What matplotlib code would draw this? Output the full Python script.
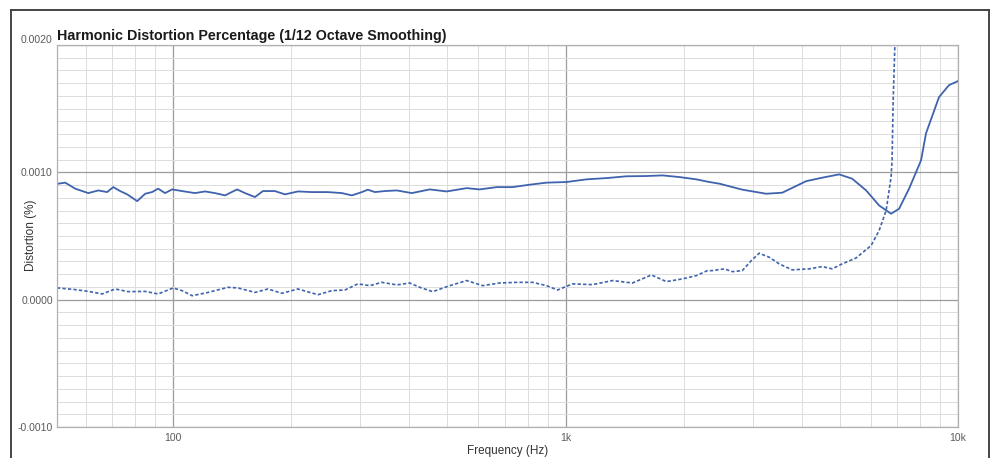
import matplotlib
matplotlib.use("Agg")
import matplotlib.pyplot as plt
from matplotlib.ticker import FixedLocator, LogLocator, MultipleLocator, NullFormatter
from matplotlib.lines import Line2D

plt.rcParams['font.family'] = ['Liberation Sans', 'DejaVu Sans']

# values (frequency in Hz, distortion in %)
solid_freq = [50.6, 51.0, 53.1, 56.3, 60.8, 64.5, 67.9, 70.4, 73.3, 76.4, 81.0, 84.9,
              88.4, 91.6, 95.4, 99.4, 105.4, 113.7, 120.6, 127.9, 135.6, 145.6, 152.5,
              161.7, 169.4, 181.7, 192.8, 208.0, 225.8, 248.0, 269.2, 285.4, 302.7,
              313.5, 326.6, 346.3, 371.5, 405.7, 450.8, 497.8, 559.9, 604.2, 667.5,
              733.3, 809.8, 894.6, 1006, 1131, 1272, 1430, 1607, 1766, 1950, 2154,
              2325, 2466, 2821, 3246, 3566, 4104, 4508, 4981, 5375, 5834, 6295, 6752,
              7078, 7505, 7821, 8050, 8290, 8946, 9487, 10000]
solid_val = [0.905, 0.911, 0.919, 0.872, 0.837, 0.858, 0.845, 0.884, 0.853, 0.827, 0.774,
             0.832, 0.845, 0.872, 0.837, 0.866, 0.853, 0.837, 0.850, 0.837, 0.819, 0.866,
             0.837, 0.806, 0.853, 0.853, 0.827, 0.850, 0.845, 0.845, 0.837, 0.819, 0.845,
             0.864, 0.845, 0.853, 0.858, 0.837, 0.866, 0.850, 0.876, 0.866, 0.884, 0.884,
             0.903, 0.919, 0.924, 0.945, 0.955, 0.969, 0.971, 0.976, 0.963, 0.945, 0.924,
             0.911, 0.864, 0.832, 0.840, 0.931, 0.958, 0.984, 0.950, 0.858, 0.740, 0.675,
             0.714, 0.872, 1.002, 1.094, 1.307, 1.591, 1.685, 1.717]

dash_freq = [50.6, 51.0, 56.3, 60.8, 66.0, 71.2, 76.8, 84.9, 91.6, 100, 105.4, 111.8,
             122.8, 138.0, 146.4, 161.7, 174.5, 189.4, 208.0, 233.9, 253.9, 274.0, 295.6,
             317.1, 340.3, 371.5, 400.9, 425.1, 458.7, 506.9, 559.9, 615.1, 679.4, 750.5,
             824.2, 894.6, 954.1, 1042, 1171, 1317, 1481, 1655, 1807, 1985, 2154, 2298,
             2366, 2539, 2660, 2821, 2974, 3115, 3304, 3504, 3780, 4178, 4508, 4779, 5068,
             5502, 6006, 6295, 6560, 6752, 6793, 6834, 6913]
dash_val = [0.090, 0.092, 0.079, 0.065, 0.045, 0.084, 0.063, 0.065, 0.045, 0.092, 0.071,
            0.031, 0.057, 0.097, 0.092, 0.057, 0.084, 0.050, 0.084, 0.039, 0.071, 0.076,
            0.124, 0.110, 0.136, 0.116, 0.131, 0.097, 0.063, 0.110, 0.150, 0.110, 0.131,
            0.136, 0.136, 0.110, 0.076, 0.124, 0.118, 0.150, 0.131, 0.194, 0.142, 0.163,
            0.189, 0.228, 0.228, 0.242, 0.220, 0.228, 0.307, 0.365, 0.333, 0.281, 0.234,
            0.242, 0.260, 0.242, 0.281, 0.328, 0.425, 0.543, 0.701, 0.963, 1.094, 1.55, 2.05]

# distortion values above are in units of 1e-3 %
solid_val = [v / 1000 for v in solid_val]
dash_val = [v / 1000 for v in dash_val]

x_ticks = [100, 1000, 10000]
x_tick_labels = ["100", "1k", "10k"]

blue = "#3f63ad"

fig = plt.figure(figsize=(9.91, 4.58), dpi=100)
ax = fig.add_axes([0.0575, 0.0677, 0.9092, 0.834])

ax.plot(solid_freq, solid_val, color=blue, lw=1.3, solid_joinstyle="round")
ax.plot(dash_freq, dash_val, color=blue, lw=1.2, linestyle=(0, (2.0, 1.3)))

ax.set_xscale("log")
ax.set_xlim(50.6, 10000)
ax.set_ylim(-0.001, 0.002)

ax.xaxis.set_major_locator(FixedLocator(x_ticks))
ax.set_xticklabels(x_tick_labels)
ax.xaxis.set_minor_locator(LogLocator(base=10, subs=[2, 3, 4, 5, 6, 7, 8, 9]))
ax.xaxis.set_minor_formatter(NullFormatter())
ax.yaxis.set_major_locator(MultipleLocator(0.001))
ax.yaxis.set_minor_locator(MultipleLocator(0.0001))
ax.yaxis.set_major_formatter(plt.FuncFormatter(lambda v, p: "%.4f" % v))

ax.tick_params(which="both", length=0)
ax.tick_params(axis="y", labelsize=7.5, labelcolor="#5a5a5a", pad=3)
ax.tick_params(axis="x", labelsize=7.5, labelcolor="#5a5a5a", pad=4)

ax.set_axisbelow(True)
ax.grid(which="minor", color="#dcdcdc", lw=0.7)
ax.grid(which="major", color="#9c9c9c", lw=0.9)
for s in ax.spines.values():
    s.set_color("#b0b0b0")
    s.set_linewidth(0.9)

# top label sits just above the frame in the original
fig.canvas.draw()
for lab in ax.get_yticklabels():
    if lab.get_text() == "0.0020":
        lab.set_va("bottom")

ax.set_xlabel("Frequency (Hz)", fontsize=8.5, color="#333333", labelpad=2)
ax.set_ylabel("Distortion (%)", fontsize=8.5, color="#333333")
ax.yaxis.set_label_coords(-0.022, 0.503)
fig.text(0.0575, 0.912, "Harmonic Distortion Percentage (1/12 Octave Smoothing)",
         fontsize=10.3, fontweight="bold", color="#1a1a1a", ha="left", va="baseline")

# page frame around the chart
fig.add_artist(Line2D([11 / 991, 11 / 991], [0, 1 - 10 / 458], color="#444444", lw=1.4))
fig.add_artist(Line2D([11 / 991, 989 / 991], [1 - 10 / 458, 1 - 10 / 458], color="#444444", lw=1.4))
fig.add_artist(Line2D([989 / 991, 989 / 991], [0, 1 - 10 / 458], color="#444444", lw=1.4))

fig.savefig("out.png", dpi=100)
